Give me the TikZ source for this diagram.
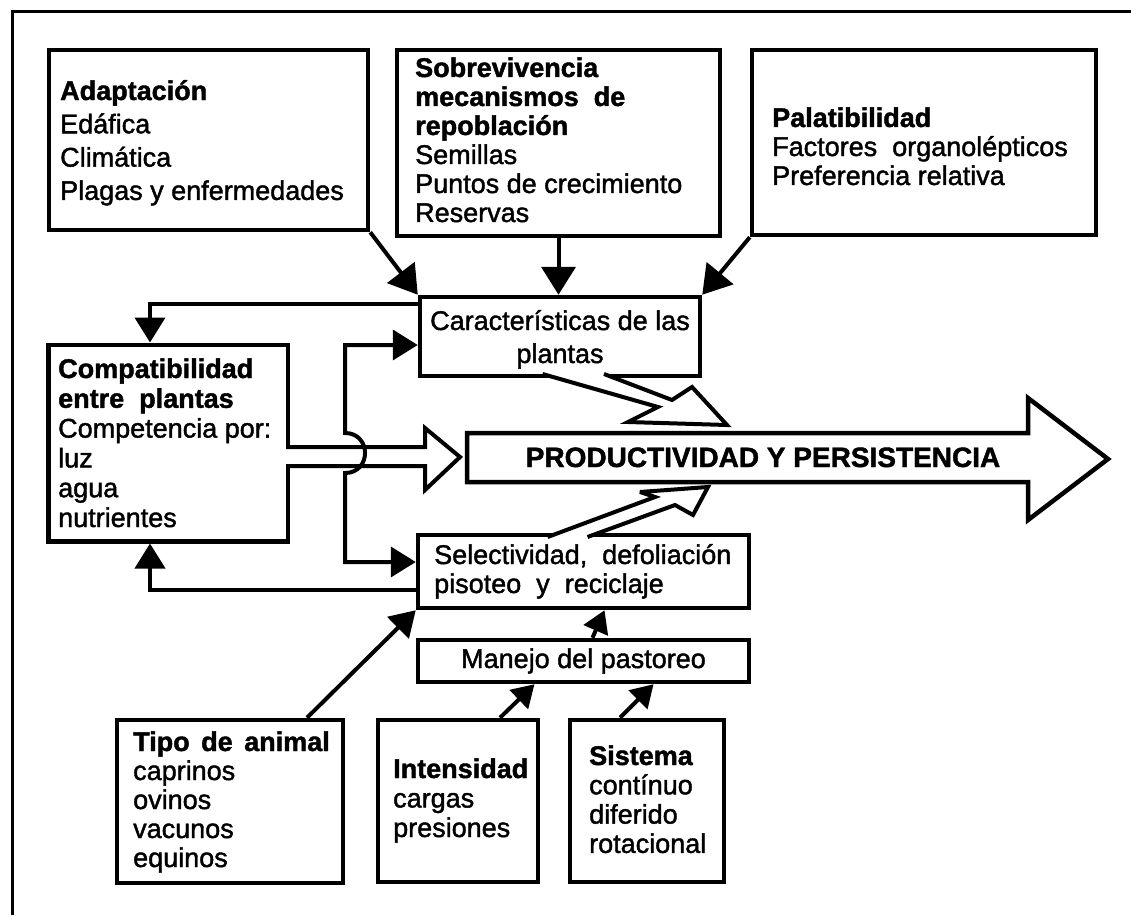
\documentclass[tikz,border=0pt]{standalone}
\usepackage{fontspec}
\setmainfont{Liberation Sans}[UprightFeatures={FakeBold=1.5},BoldFeatures={FakeBold=1.5}]
\usetikzlibrary{arrows.meta}
\newcommand\tlines[2]{\begin{tabular}[t]{@{}#1@{}}#2\end{tabular}}
\begin{document}
\begin{tikzpicture}[x=1pt,y=-1pt,
  box/.style={draw,line width=4.5pt,inner sep=0pt,rectangle},
  txt/.style={anchor=base west,inner sep=0pt},
  ctxt/.style={anchor=base,inner sep=0pt},
  conn/.style={line width=4pt},
  hollow/.style={line width=4pt,line join=miter,miter limit=5},
  tipB/.style={-{Triangle[length=28pt,width=34pt]}},
  tipM/.style={-{Triangle[length=25pt,width=30pt]}},
  tipS/.style={-{Triangle[length=22pt,width=26pt]}},
  tipMM/.style={{Triangle[length=25pt,width=30pt]}-{Triangle[length=25pt,width=30pt]}},
]
% background and bounding box
\fill[white] (0,0) rectangle (1131,915);
\useasboundingbox (0,0) rectangle (1131,915);
% partial frame
\coordinate (frBL) at (12.5,915);
\coordinate (frTL) at (12.5,11.5);
\coordinate (frTR) at (1131,11.5);
\draw[line width=3pt] (frBL) -- (frTL) -- (frTR);

% boxes
\node[box,minimum width=319pt,minimum height=180pt] (adapt) at (208.5,140) {};
\node[box,minimum width=323pt,minimum height=186pt] (sobre) at (558.5,143) {};
\node[box,minimum width=344pt,minimum height=185pt] (palat) at (924,142.5) {};
\node[box,minimum width=280pt,minimum height=79pt] (carac) at (560,336.5) {};
\node[box,minimum width=239.5pt,minimum height=196.5pt] (compat) at (168,443) {};
\node[box,minimum width=331pt,minimum height=73pt] (selec) at (583.5,571.5) {};
\node[box,minimum width=331pt,minimum height=42pt] (manejo) at (583.5,661) {};
\node[box,minimum width=226pt,minimum height=163pt] (tipo) at (230,801.5) {};
\node[box,minimum width=160pt,minimum height=162pt] (inten) at (458,801) {};
\node[box,minimum width=154pt,minimum height=162pt] (sist) at (647,801) {};

% hollow arrow from Compatibilidad
\fill[white] (286,447) -- (425,447) -- (425,428) -- (460,457) -- (425,490) -- (425,466) -- (286,466) -- cycle;
\draw[hollow] (286,447) -- (425,447) -- (425,428) -- (460,457) -- (425,490) -- (425,466) -- (286,466);
% hollow arrow from Caracteristicas
\fill[white] (542.5,374) -- (658,407) -- (628,422) -- (727,425) -- (692,387) -- (672,400) -- (604,374) -- cycle;
\draw[hollow] (542.5,374) -- (658,407) -- (628,422) -- (727,425) -- (692,387) -- (672,400) -- (604,374);
% hollow arrow from Selectividad
\fill[white] (547.6,537) -- (655,497) -- (640,492) -- (708,487) -- (693,515) -- (675,505) -- (587.5,537) -- cycle;
\draw[hollow] (547.6,537) -- (655,497) -- (640,492) -- (708,487) -- (693,515) -- (675,505) -- (587.5,537);
% big arrow
\draw[hollow,line width=4.5pt,fill=white] (467,433) -- (1028,433) -- (1028,398) -- (1108,459) -- (1028,520) -- (1028,482) -- (467,482) -- cycle;
\node[ctxt,font=\bfseries\fontsize{28}{30}\selectfont] (prod) at (763,467) {PRODUCTIVIDAD Y PERSISTENCIA};

% connectors
\draw[conn,tipB] (adapt.south east) -- (carac.north west);
\draw[conn,tipB] (sobre.south) -- (sobre.south |- carac.north);
\draw[conn,tipB] (palat.south west) -- (carac.north east);
\coordinate (fbx) at (150,0);
\draw[conn,tipM] ([yshift=-9pt]carac.north west) -| (fbx |- compat.north);
\draw[conn,tipM] ([yshift=20pt]selec.south west) -| (fbx |- compat.south);
\draw[conn,tipMM] ([yshift=-8.5pt]carac.west) -| (345,433)
   .. controls (371.7,433) and (371.7,473) .. (345,473)
   |- ([yshift=9.5pt]selec.west);
\draw[conn,tipM] ([xshift=77pt]tipo.north) -- (selec.south west);
\draw[conn,tipS] ([xshift=9pt]manejo.north) -- ([xshift=21pt]selec.south);
\draw[conn,tipS] ([xshift=42pt]inten.north) -- ([xshift=-49pt]manejo.south);
\draw[conn,tipS] ([xshift=-27pt]sist.north) -- ([xshift=70pt]manejo.south);

% texts
\node[txt,font=\fontsize{27}{33.3}\selectfont] (adaptT) at (60,100)
  {\tlines{l}{\textbf{Adaptación}\\Edáfica\\Climática\\Plagas y enfermedades}};
\node[txt,font=\fontsize{27}{29}\selectfont] (sobreT) at (415,77)
  {\tlines{l}{\textbf{Sobrevivencia}\\\textbf{mecanismos\ \ de}\\\textbf{repoblación}\\Semillas\\Puntos de crecimiento\\Reservas}};
\node[txt,font=\fontsize{27}{29}\selectfont] (palatT) at (772,127)
  {\tlines{l}{\textbf{Palatibilidad}\\Factores\ \ organolépticos\\Preferencia relativa}};
\node[ctxt,font=\fontsize{27}{33}\selectfont] (caracT) at (560,330)
  {\tlines{c}{Características de las\\plantas}};
\node[txt,font=\fontsize{27}{29.8}\selectfont] (compatT) at (58,378)
  {\tlines{l}{\textbf{Compatibilidad}\\\textbf{entre\ \ plantas}\\Competencia por:\\luz\\agua\\nutrientes}};
\node[txt,font=\fontsize{27}{29}\selectfont] (selecT) at (434,564)
  {\tlines{l}{Selectividad,\ \ defoliación\\pisoteo\ \ y\ \ reciclaje}};
\node[ctxt,font=\fontsize{27}{29}\selectfont] (manejoT) at (583.5,668) {Manejo del pastoreo};
\node[txt,font=\fontsize{27}{29}\selectfont] (tipoT) at (133,751)
  {\tlines{l}{\textbf{Tipo\hspace{4pt} de\hspace{4pt} animal}\\caprinos\\ovinos\\vacunos\\equinos}};
\node[txt,font=\fontsize{27}{29.5}\selectfont] (intenT) at (393,778)
  {\tlines{l}{\textbf{Intensidad}\\cargas\\presiones}};
\node[txt,font=\fontsize{27}{29.3}\selectfont] (sistT) at (589,765)
  {\tlines{l}{\textbf{Sistema}\\contínuo\\diferido\\rotacional}};
\end{tikzpicture}
\end{document}
